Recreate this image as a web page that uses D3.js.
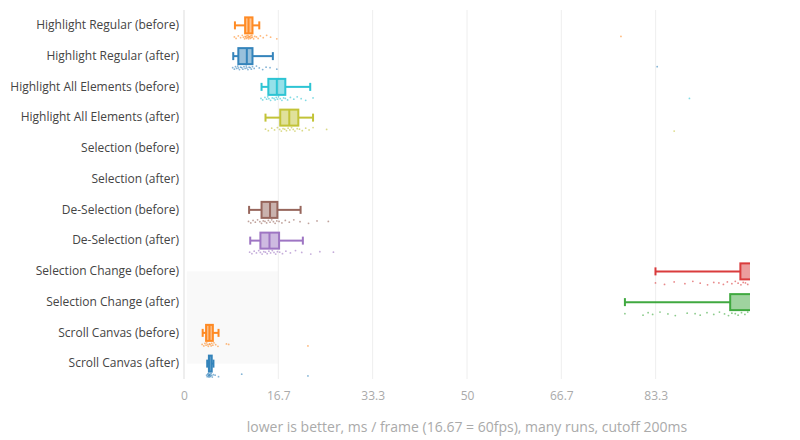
<!DOCTYPE html>
<html>
<head>
<meta charset="utf-8">
<script src="https://cdn.jsdelivr.net/npm/d3@7"></script>
<style>
  body { margin: 0; background: #fff; }
  text { font-family: "Open Sans", verdana, arial, sans-serif; }
</style>
</head>
<body>
<div id="chart"></div>
<script>
var categories = [
    "Highlight Regular (before)", "Highlight Regular (after)",
    "Highlight All Elements (before)", "Highlight All Elements (after)",
    "Selection (before)", "Selection (after)",
    "De-Selection (before)", "De-Selection (after)",
    "Selection Change (before)", "Selection Change (after)",
    "Scroll Canvas (before)", "Scroll Canvas (after)"
];
var colors = ["#ff7f0e", "#1f77b4", "#17becf", "#bcbd22", null, null,
    "#8c564b", "#9467bd", "#d62728", "#2ca02c", "#ff7f0e", "#1f77b4"];

// [lower whisker, q1, median, q3, upper whisker] in ms / frame
var stats = [
    [9.0, 10.8, 11.4, 12.1, 13.3],
    [8.7, 9.6, 11.1, 12.1, 15.7],
    [13.7, 14.9, 16.4, 17.9, 22.3],
    [14.4, 17.0, 18.6, 20.2, 22.8],
    null,
    null,
    [11.5, 13.7, 15.2, 16.5, 20.6],
    [11.7, 13.5, 15.1, 16.8, 21.0],
    [83.3, 98.3, 101, 105, 115],
    [77.9, 96.5, 101, 104, 112],
    [3.3, 3.9, 4.5, 5.1, 6.1],
    [4.1, 4.4, 4.5, 4.9, 5.2]
];

var points = [
    [8.9, 9.2, 9.6, 10.0, 10.3, 10.5, 10.7, 10.8, 10.9, 11.0, 11.1, 11.2, 11.3, 11.4, 11.4, 11.5, 11.6, 11.7, 11.8, 11.9, 12.0, 12.1, 12.3, 12.5, 12.8, 13.1, 13.5, 14.0, 14.6, 15.3, 16.4, 77.2],
    [8.6, 8.9, 9.1, 9.3, 9.5, 9.6, 9.8, 10.0, 10.2, 10.4, 10.6, 10.8, 11.0, 11.1, 11.3, 11.5, 11.7, 11.9, 12.1, 12.4, 12.8, 13.3, 13.9, 14.5, 15.2, 16.4, 83.6],
    [13.6, 13.9, 14.3, 14.6, 14.8, 15.0, 15.3, 15.6, 15.9, 16.1, 16.3, 16.5, 16.7, 17.0, 17.3, 17.6, 17.9, 18.3, 18.8, 19.4, 20.0, 20.7, 21.5, 22.8, 89.3],
    [14.4, 14.9, 15.5, 16.0, 16.5, 16.9, 17.2, 17.5, 17.8, 18.1, 18.4, 18.7, 19.0, 19.3, 19.6, 20.0, 20.4, 20.9, 21.5, 22.1, 22.8, 25.2, 86.6],
    [],
    [],
    [11.4, 11.8, 12.2, 12.6, 13.0, 13.4, 13.7, 14.0, 14.3, 14.6, 14.9, 15.2, 15.5, 15.8, 16.1, 16.4, 16.8, 17.3, 17.9, 18.6, 19.4, 20.5, 22.0, 23.5, 25.5],
    [11.6, 12.0, 12.4, 12.8, 13.2, 13.5, 13.8, 14.1, 14.4, 14.7, 15.0, 15.3, 15.6, 15.9, 16.2, 16.5, 16.9, 17.4, 18.0, 18.8, 19.7, 20.8, 22.4, 24.0, 26.4],
    [83.3, 84.9, 86.6, 88.5, 89.9, 91.2, 92.5, 93.6, 94.5, 95.3, 96.0, 96.8, 97.4, 97.9, 98.4, 98.8, 99.2, 99.6, 100.5, 102, 105, 110],
    [77.9, 81.1, 82.0, 82.8, 84.1, 85.5, 86.8, 88.9, 90.3, 91.2, 92.4, 93.6, 94.6, 95.5, 96.2, 96.8, 97.4, 97.9, 98.5, 99.1, 99.6, 101, 103, 108],
    [3.2, 3.5, 3.7, 3.9, 4.0, 4.2, 4.3, 4.5, 4.6, 4.8, 4.9, 5.1, 5.3, 5.6, 6.0, 7.5, 7.9, 21.9],
    [4.0, 4.1, 4.2, 4.3, 4.3, 4.4, 4.4, 4.5, 4.5, 4.6, 4.6, 4.7, 4.8, 4.9, 5.0, 5.2, 5.5, 6.1, 10.2, 21.9]
];

var tickValues = [0, 100 / 6, 100 / 3, 50, 200 / 3, 250 / 3];
var tickLabels = ["0", "16.7", "33.3", "50", "66.7", "83.3"];

var width = 800, height = 440;
var margin = { top: 10, right: 50, bottom: 61, left: 184 };
var innerW = width - margin.left - margin.right;
var innerH = height - margin.top - margin.bottom;

var x = d3.scaleLinear().domain([0, 100]).range([0, innerW]);
var y = d3.scaleBand().domain(categories).range([0, innerH]);
var bw = 16;

var svg = d3.select("#chart").append("svg")
    .attr("width", width)
    .attr("height", height);

svg.append("defs").append("clipPath").attr("id", "clip")
    .append("rect").attr("width", innerW).attr("height", innerH);

var g = svg.append("g")
    .attr("transform", "translate(" + margin.left + "," + margin.top + ")");

// shaded region behind the last rows
var c0 = y("Selection Change (before)") + y.bandwidth() / 2;
var c1 = y("Scroll Canvas (after)") + y.bandwidth() / 2;
g.append("rect")
    .attr("x", x(0.5))
    .attr("y", c0)
    .attr("width", x(100 / 6) - x(0.5))
    .attr("height", c1 - c0)
    .attr("fill", "#f9f9f9");

// grid
g.selectAll(".grid")
    .data(tickValues)
    .enter().append("line")
    .attr("x1", function (d) { return x(d); })
    .attr("x2", function (d) { return x(d); })
    .attr("y1", 0)
    .attr("y2", innerH)
    .attr("stroke", "#eee")
    .attr("stroke-width", function (d) { return d === 0 ? 2 : 1; });

// x axis
var xAxis = g.append("g")
    .attr("transform", "translate(0," + innerH + ")")
    .call(d3.axisBottom(x).tickValues(tickValues)
        .tickFormat(function (d, i) { return tickLabels[i]; })
        .tickSize(0).tickPadding(12));
xAxis.select(".domain").remove();
xAxis.selectAll("text").attr("fill", "#aaa").attr("font-size", 12);

// y axis
var yAxis = g.append("g")
    .call(d3.axisLeft(y).tickSize(0).tickPadding(5));
yAxis.select(".domain").remove();
yAxis.selectAll("text").attr("fill", "#444").attr("font-size", 12);

// boxes
var plot = g.append("g").attr("clip-path", "url(#clip)");

categories.forEach(function (cat, i) {
    var s = stats[i];
    if (!s) return;
    var col = colors[i];
    var cy = y(cat) + y.bandwidth() / 2;
    var grp = plot.append("g").attr("opacity", 0.9);

    grp.append("line")
        .attr("x1", x(s[0])).attr("x2", x(s[1]))
        .attr("y1", cy).attr("y2", cy)
        .attr("stroke", col).attr("stroke-width", 2);
    grp.append("line")
        .attr("x1", x(s[3])).attr("x2", x(s[4]))
        .attr("y1", cy).attr("y2", cy)
        .attr("stroke", col).attr("stroke-width", 2);
    [s[0], s[4]].forEach(function (v) {
        grp.append("line")
            .attr("x1", x(v)).attr("x2", x(v))
            .attr("y1", cy - bw / 4).attr("y2", cy + bw / 4)
            .attr("stroke", col).attr("stroke-width", 2);
    });
    grp.append("rect")
        .attr("x", x(s[1]))
        .attr("y", cy - bw / 2)
        .attr("width", x(s[3]) - x(s[1]))
        .attr("height", bw)
        .attr("fill", col).attr("fill-opacity", 0.5)
        .attr("stroke", col).attr("stroke-width", 2);
    grp.append("line")
        .attr("x1", x(s[2])).attr("x2", x(s[2]))
        .attr("y1", cy - bw / 2).attr("y2", cy + bw / 2)
        .attr("stroke", col).attr("stroke-width", 2);

    // sample points under the box, small fixed vertical spread
    var offs = [0, 1.5, -1, 0.8, -1.6, 0.3, 1.9, -0.5];
    grp.selectAll(".pt")
        .data(points[i])
        .enter().append("circle")
        .attr("cx", function (d) { return x(d); })
        .attr("cy", function (d, j) { return cy + 11.5 + offs[j % offs.length]; })
        .attr("r", 0.9)
        .attr("fill", col)
        .attr("fill-opacity", 0.6);
});

// axis title
svg.append("text")
    .attr("x", margin.left + innerW / 2)
    .attr("y", 432)
    .attr("text-anchor", "middle")
    .attr("font-size", 14)
    .attr("fill", "#aaa")
    .text("lower is better, ms / frame (16.67 = 60fps), many runs, cutoff 200ms");
</script>
</body>
</html>
